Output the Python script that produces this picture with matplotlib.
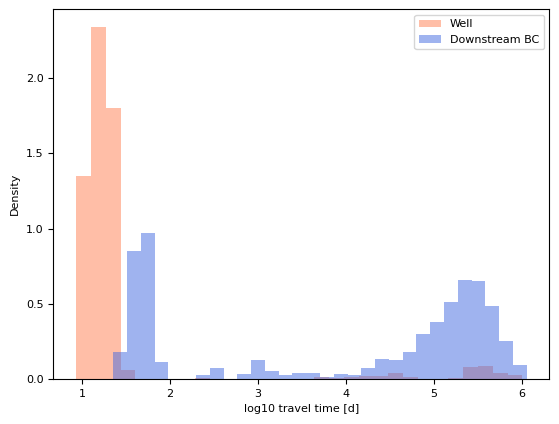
import numpy as np
import matplotlib
matplotlib.use("Agg")
import matplotlib.pyplot as plt

# Well histogram: 30 bins from 0.932 to 6.008
well_lo, well_hi = 0.932, 6.008
well_density = [1.35, 2.34, 1.80, 0.06, 0.0, 0.0, 0.0, 0.0, 0.007, 0.0,
                0.0, 0.0, 0.0, 0.0, 0.0, 0.0, 0.013, 0.007, 0.015, 0.02,
                0.02, 0.04, 0.013, 0.0, 0.0, 0.007, 0.08, 0.086, 0.04, 0.027]

# Downstream BC histogram: 30 bins from 1.357 to 6.057
bc_lo, bc_hi = 1.357, 6.057
bc_density = [0.18, 0.85, 0.97, 0.11, 0.0, 0.0, 0.027, 0.073, 0.0, 0.033,
              0.126, 0.053, 0.027, 0.04, 0.04, 0.013, 0.033, 0.025, 0.073, 0.133,
              0.126, 0.18, 0.30, 0.379, 0.51, 0.658, 0.651, 0.485, 0.252, 0.093]

labels = ["Well", "Downstream BC"]
xlabel = "log10 travel time [d]"
ylabel = "Density"

fig = plt.figure(figsize=(5.59, 4.24), dpi=100)
ax = fig.add_axes([53.3 / 559, 1 - 379 / 424, 496 / 559, 369.7 / 424])

w_edges = np.linspace(well_lo, well_hi, len(well_density) + 1)
b_edges = np.linspace(bc_lo, bc_hi, len(bc_density) + 1)
w_centers = 0.5 * (w_edges[:-1] + w_edges[1:])
b_centers = 0.5 * (b_edges[:-1] + b_edges[1:])

ax.hist(w_centers, bins=w_edges, weights=well_density, color="coral", alpha=0.5, label=labels[0])
ax.hist(b_centers, bins=b_edges, weights=bc_density, color="royalblue", alpha=0.5, label=labels[1])

ax.set_xlabel(xlabel, fontsize=8)
ax.set_ylabel(ylabel, fontsize=8)
ax.tick_params(labelsize=8)
ax.legend(fontsize=8)

fig.savefig("out.png", dpi=100)
